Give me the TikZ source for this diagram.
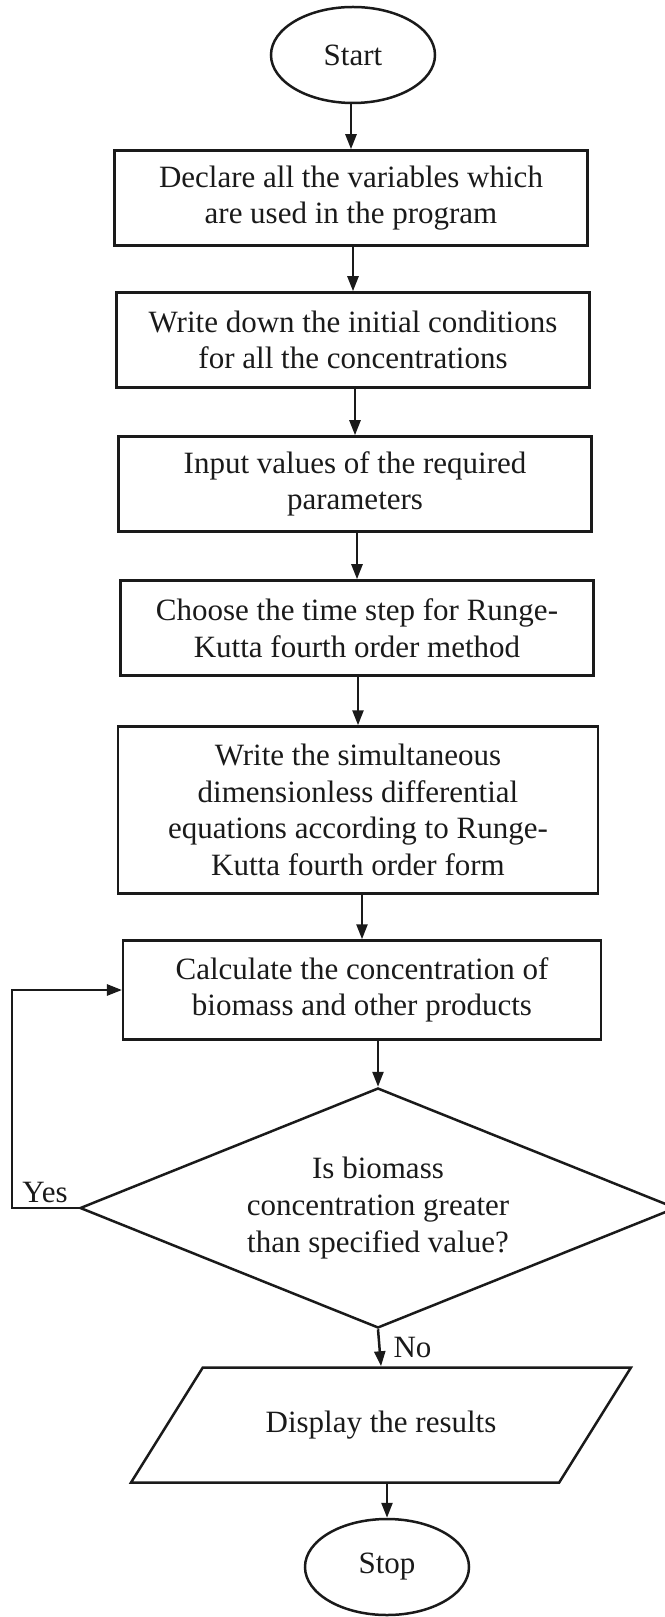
\documentclass[tikz,border=0pt]{standalone}
\usepackage{fontspec}
\setmainfont{Liberation Serif}
\usepackage{tikz}
\usetikzlibrary{arrows.meta,positioning,shapes.geometric}
\definecolor{Ink}{HTML}{1A1A1A}

\begin{document}
\begin{tikzpicture}[
  x=0.4pt,y=-0.4pt,
  every node/.style={font=\fontsize{12.4}{14.7}\selectfont,text=Ink},
  term/.style={ellipse,draw=Ink,line width=1pt,minimum width=65.6pt,minimum height=38.4pt,inner sep=0pt},
  proc/.style={rectangle,draw=Ink,line width=1pt,minimum width=189pt,minimum height=38pt,align=center,inner sep=2pt},
  decide/.style={diamond,draw=Ink,line width=1pt,aspect=2.45,minimum width=238.4pt,minimum height=96pt,inner sep=0pt,align=center},
  io/.style={trapezium,trapezium left angle=42,trapezium right angle=138,trapezium stretches=true,draw=Ink,line width=1pt,minimum width=200pt,minimum height=46pt},
  arrow/.style={-{Triangle[length=6pt,width=4.4pt]},line width=1pt,draw=Ink},
  lbl/.style={inner sep=1pt}
]
\useasboundingbox (0,0) rectangle (665,1617);
\node[term] (start) at (353,55) {Start};
\node[proc] (declare) at (351,198) {Declare all the variables which\\are used in the program};
\node[proc] (init) at (353,340) {Write down the initial conditions\\for all the concentrations};
\node[proc] (params) at (355,484) {Input values of the required\\parameters};
\node[proc] (tstep) at (357,628) {Choose the time step for Runge-\\Kutta fourth order method};
\node[proc,minimum width=192pt,minimum height=66.8pt] (odes) at (358,810) {Write the simultaneous\\dimensionless differential\\equations according to Runge-\\Kutta fourth order form};
\node[proc,minimum width=191pt,minimum height=39.6pt] (calc) at (362,990) {Calculate the concentration of\\biomass and other products};
\node[decide] (check) at (378,1208) {Is biomass\\concentration greater\\than specified value?};
\node[io] (show) at (381,1425) {Display the results};
\node[term] (stop) at (387,1567) {Stop};
\coordinate (back) at (12,1100);
\coordinate (turn) at (check.west -| back);
% main flow, top to bottom
\draw[arrow] (start.south -| declare.north) -- (declare.north);
\draw[arrow] (declare.south -| init.north) -- (init.north);
\draw[arrow] (init.south -| params.north) -- (params.north);
\draw[arrow] (params.south -| tstep.north) -- (tstep.north);
\draw[arrow] (tstep.south -| odes.north) -- (odes.north);
\draw[arrow] (odes.south -| calc.north) -- (calc.north);
\draw[arrow] (calc.south -| check.north) -- (check.north);
\draw[arrow] (check.south) -- (show.north);
\draw[arrow] (show.south -| stop.north) -- (stop.north);
% loop back while the test holds
\draw[arrow] (check.west) -- (turn) |- (calc.west);
\node[lbl,above right=1pt and 3pt of turn] (yes) {Yes};
\node[lbl,below right=2pt and 5pt of check.south] (no) {No};
\end{tikzpicture}
\end{document}
